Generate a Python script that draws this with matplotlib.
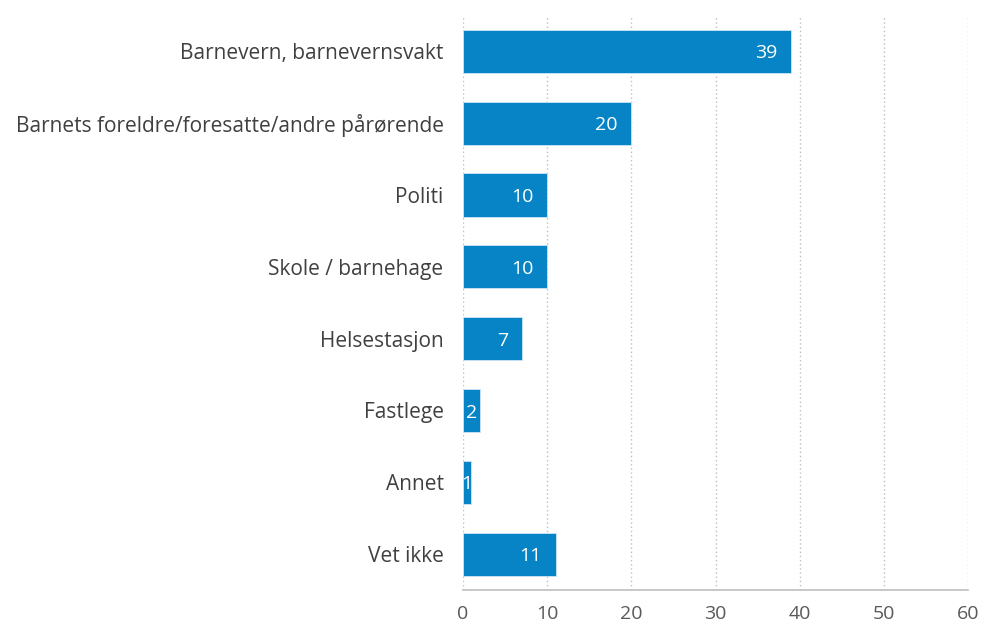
import matplotlib.pyplot as plt
import numpy as np

categories = ["Barnevern, barnevernsvakt",
              "Barnets foreldre/foresatte/andre pårørende",
              "Politi",
              "Skole / barnehage",
              "Helsestasjon",
              "Fastlege",
              "Annet",
              "Vet ikke"]
values = [39, 20, 10, 10, 7, 2, 1, 11]
xticks = [0, 10, 20, 30, 40, 50, 60]

plt.rcParams['font.family'] = ['Open Sans', 'DejaVu Sans']

fig = plt.figure(figsize=(9.85, 6.28), dpi=100)
ax = fig.add_axes([0.470, 0.0605, 0.513, 0.915])

y = np.arange(len(categories))
bars = ax.barh(y, values, height=0.6, color='#0784c6', edgecolor='#cfe6f4', linewidth=0.6, zorder=3)

for b, v in zip(bars, values):
    yc = b.get_y() + b.get_height() / 2
    if v < 3:
        ax.annotate(str(v), (v / 2, yc), xytext=(0, -1.5), textcoords='offset points',
                    color='white', fontsize=14, ha='center', va='center', zorder=4)
    else:
        ax.annotate(str(v), (v, yc), xytext=(-10, -1.5), textcoords='offset points',
                    color='white', fontsize=14, ha='right', va='center', zorder=4)

ax.set_yticks(y)
ax.set_yticklabels(categories, fontsize=15, color='#404040')
ax.set_ylim(len(categories) - 0.5, -0.5)
ax.set_xlim(0, 60)
ax.set_xticks(xticks)
ax.set_xticklabels([str(t) for t in xticks], fontsize=14, color='#595959')
ax.tick_params(axis='y', length=0, pad=14)
ax.tick_params(axis='x', length=0, pad=11)

ax.grid(axis='x', linestyle=(0, (1, 2)), color='#bfbfbf', linewidth=1, zorder=0)
for s in ['top', 'right', 'left']:
    ax.spines[s].set_visible(False)
ax.spines['bottom'].set_color('#bfbfbf')
ax.spines['bottom'].set_linewidth(1.2)

fig.savefig('out.png', dpi=100)
